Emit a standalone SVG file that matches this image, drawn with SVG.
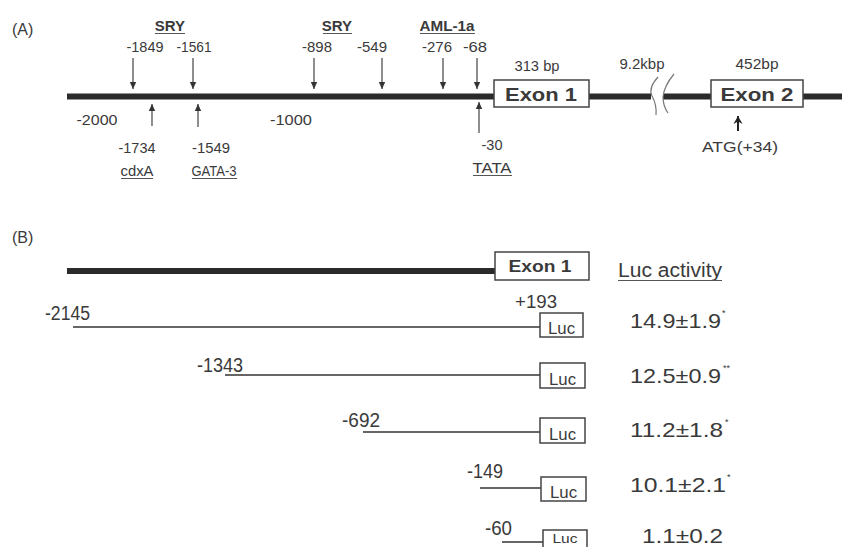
<svg xmlns="http://www.w3.org/2000/svg" width="842" height="547" viewBox="0 0 842 547">
<style>
.t{font-family:"Liberation Sans",Arial,sans-serif;fill:#3a3a3a}
.s14{font-size:15px}
.s15{font-size:16px}
.b{font-weight:bold}
.m{text-anchor:middle}
.thick{stroke:#2b2b2b;stroke-width:6;fill:none}
.thin{stroke:#333;stroke-width:1.4;fill:none}
.ul{stroke:#555;stroke-width:1}
.box{fill:#fff;stroke:#444;stroke-width:1.5}
.arr{stroke:#444;stroke-width:1.2;marker-end:url(#ah)}
.wave{stroke:#777;stroke-width:1.2;fill:none}
</style>
<defs>
<marker id="ah" markerWidth="8" markerHeight="8" refX="7" refY="4" orient="auto" markerUnits="userSpaceOnUse">
<path d="M0,0.8 L7,4 L0,7.2 Z" fill="#333"/>
</marker>
<marker id="ahb" markerWidth="10" markerHeight="10" refX="8" refY="5" orient="auto" markerUnits="userSpaceOnUse">
<path d="M0,0.5 L8,5 L0,9.5 L2.5,5 Z" fill="#222"/>
</marker>
</defs>
<rect width="842" height="547" fill="#fff"/>

<!-- Panel A -->
<text id="labelA" class="t" x="12" y="35" font-size="16">(A)</text>

<g id="geneA">
<line class="thick" x1="67" y1="96.5" x2="494" y2="96.5"/>
<line class="thick" x1="589" y1="96.5" x2="651" y2="96.5"/>
<line class="thick" x1="663" y1="96.5" x2="711" y2="96.5"/>
<line class="thick" x1="803" y1="96.5" x2="842" y2="96.5"/>
<path class="wave" d="M658,77 Q648,88 652,96 Q657,105 656,115"/>
<path class="wave" d="M674,74 Q664,86 663,97 Q663,106 668,113"/>
</g>

<g id="exon1A">
<rect class="box" x="494" y="80" width="95" height="27"/>
<text class="t b m" x="541" y="101" font-size="19" textLength="72" lengthAdjust="spacingAndGlyphs">Exon 1</text>
<text class="t s14 m" x="537" y="71" textLength="45" lengthAdjust="spacingAndGlyphs">313 bp</text>
</g>
<g id="intron">
<text class="t s14 m" x="642" y="69" textLength="45" lengthAdjust="spacingAndGlyphs">9.2kbp</text>
</g>
<g id="exon2A">
<rect class="box" x="711" y="80" width="92" height="27"/>
<text class="t b m" x="757" y="101" font-size="19" textLength="73" lengthAdjust="spacingAndGlyphs">Exon 2</text>
<text class="t s14 m" x="757" y="69" textLength="43" lengthAdjust="spacingAndGlyphs">452bp</text>
</g>

<g id="scale">
<text class="t s14 m" x="97" y="125" textLength="41" lengthAdjust="spacingAndGlyphs">-2000</text>
<text class="t s14 m" x="291" y="125" textLength="42" lengthAdjust="spacingAndGlyphs">-1000</text>
</g>

<g id="sry1">
<text class="t s14 b m" x="170" y="31">SRY</text>
<line class="ul" x1="155" y1="33.5" x2="185" y2="33.5"/>
<text class="t s14 m" x="145" y="52" textLength="37" lengthAdjust="spacingAndGlyphs">-1849</text>
<text class="t s14 m" x="194" y="52" textLength="35" lengthAdjust="spacingAndGlyphs">-1561</text>
</g>
<g id="sry2">
<text class="t s14 b m" x="337" y="31">SRY</text>
<line class="ul" x1="323" y1="33.5" x2="352" y2="33.5"/>
<text class="t s14 m" x="317" y="52" textLength="30" lengthAdjust="spacingAndGlyphs">-898</text>
<text class="t s14 m" x="372" y="52" textLength="30" lengthAdjust="spacingAndGlyphs">-549</text>
</g>
<g id="aml">
<text class="t s14 b m" x="447" y="31" textLength="55" lengthAdjust="spacingAndGlyphs">AML-1a</text>
<line class="ul" x1="420" y1="33.5" x2="475" y2="33.5"/>
<text class="t s14 m" x="437" y="52" textLength="30" lengthAdjust="spacingAndGlyphs">-276</text>
<text class="t s14 m" x="475" y="52" textLength="24" lengthAdjust="spacingAndGlyphs">-68</text>
</g>
<g id="cdxA">
<text class="t s14 m" x="137" y="153" textLength="37" lengthAdjust="spacingAndGlyphs">-1734</text>
<text class="t s14 m" x="137" y="176" textLength="33" lengthAdjust="spacingAndGlyphs">cdxA</text>
<line class="ul" x1="121" y1="178.5" x2="153" y2="178.5"/>
</g>
<g id="gata3">
<text class="t s14 m" x="211" y="153" textLength="38" lengthAdjust="spacingAndGlyphs">-1549</text>
<text class="t s14 m" x="214" y="176" textLength="45" lengthAdjust="spacingAndGlyphs">GATA-3</text>
<line class="ul" x1="192" y1="178.5" x2="237" y2="178.5"/>
</g>
<g id="tata">
<text class="t s14 m" x="492" y="150" textLength="21" lengthAdjust="spacingAndGlyphs">-30</text>
<text class="t s14 m" x="492" y="173" textLength="39" lengthAdjust="spacingAndGlyphs">TATA</text>
<line class="ul" x1="473" y1="175.5" x2="512" y2="175.5"/>
</g>
<g id="atg">
<text class="t s14 m" x="740" y="152" textLength="76" lengthAdjust="spacingAndGlyphs">ATG(+34)</text>
</g>

<g id="connectors">
<line class="arr" x1="133" y1="58" x2="133" y2="89"/>
<line class="arr" x1="193" y1="58" x2="193" y2="89"/>
<line class="arr" x1="314" y1="58" x2="314" y2="89"/>
<line class="arr" x1="382" y1="58" x2="382" y2="89"/>
<line class="arr" x1="443" y1="58" x2="443" y2="89"/>
<line class="arr" x1="477" y1="58" x2="477" y2="89"/>
<line class="arr" x1="152" y1="126" x2="152" y2="104"/>
<line class="arr" x1="198" y1="127" x2="198" y2="104"/>
<line class="arr" x1="479" y1="133" x2="479" y2="102"/>
<line x1="738" y1="131" x2="738" y2="116" stroke="#222" stroke-width="2" marker-end="url(#ahb)"/>
</g>

<!-- Panel B -->
<text id="labelB" class="t" x="12" y="243" font-size="16">(B)</text>

<g id="geneB">
<line class="thick" x1="67" y1="271" x2="495" y2="271"/>
<rect class="box" x="495" y="252" width="94" height="28"/>
<text class="t b m" x="540" y="272" font-size="17" textLength="63" lengthAdjust="spacingAndGlyphs">Exon 1</text>
</g>
<g id="lucHeader">
<text class="t" x="618" y="277" font-size="20" textLength="104" lengthAdjust="spacingAndGlyphs">Luc activity</text>
<line class="ul" x1="618" y1="280.5" x2="722" y2="280.5"/>
</g>

<g id="c2145">
<text class="t" x="45" y="320" font-size="20" textLength="45" lengthAdjust="spacingAndGlyphs">-2145</text>
<text class="t" x="515" y="308" font-size="18" textLength="42" lengthAdjust="spacingAndGlyphs">+193</text>
<line class="thin" x1="73" y1="327" x2="540" y2="327"/>
<rect class="box" x="540" y="313" width="43" height="24"/>
<text class="t s15 m" x="561.5" y="334" textLength="27" lengthAdjust="spacingAndGlyphs">Luc</text>
<text class="t" x="630" y="328" font-size="21" textLength="91" lengthAdjust="spacingAndGlyphs">14.9±1.9</text>
<text class="t" x="722" y="316" font-size="9">*</text>
</g>
<g id="c1343">
<text class="t" x="197" y="372" font-size="20" textLength="46" lengthAdjust="spacingAndGlyphs">-1343</text>
<line class="thin" x1="225" y1="375" x2="540" y2="375"/>
<rect class="box" x="540" y="363" width="45" height="25"/>
<text class="t s15 m" x="562.5" y="385" textLength="27" lengthAdjust="spacingAndGlyphs">Luc</text>
<text class="t" x="630" y="383" font-size="21" textLength="91" lengthAdjust="spacingAndGlyphs">12.5±0.9</text>
<text class="t" x="723" y="371" font-size="9">**</text>
</g>
<g id="c692">
<text class="t" x="342" y="427" font-size="20" textLength="38" lengthAdjust="spacingAndGlyphs">-692</text>
<line class="thin" x1="363" y1="432" x2="540" y2="432"/>
<rect class="box" x="540" y="418" width="45" height="25"/>
<text class="t s15 m" x="562.5" y="440" textLength="27" lengthAdjust="spacingAndGlyphs">Luc</text>
<text class="t" x="630" y="437" font-size="21" textLength="93" lengthAdjust="spacingAndGlyphs">11.2±1.8</text>
<text class="t" x="725" y="425" font-size="9">*</text>
</g>
<g id="c149">
<text class="t" x="467" y="478" font-size="20" textLength="36" lengthAdjust="spacingAndGlyphs">-149</text>
<line class="thin" x1="480" y1="488" x2="541" y2="488"/>
<rect class="box" x="541" y="477" width="45" height="24"/>
<text class="t s15 m" x="563.5" y="498" textLength="27" lengthAdjust="spacingAndGlyphs">Luc</text>
<text class="t" x="630" y="492" font-size="21" textLength="96" lengthAdjust="spacingAndGlyphs">10.1±2.1</text>
<text class="t" x="727" y="480" font-size="9">*</text>
</g>
<g id="c60">
<text class="t" x="485" y="535" font-size="20" textLength="27" lengthAdjust="spacingAndGlyphs">-60</text>
<line class="thin" x1="502" y1="542" x2="543" y2="542"/>
<rect class="box" x="543" y="530" width="44" height="24"/>
<text class="t m" x="565" y="543" font-size="13" textLength="25" lengthAdjust="spacingAndGlyphs">Luc</text>
<text class="t" x="642" y="543" font-size="21" textLength="81" lengthAdjust="spacingAndGlyphs">1.1±0.2</text>
</g>
</svg>
